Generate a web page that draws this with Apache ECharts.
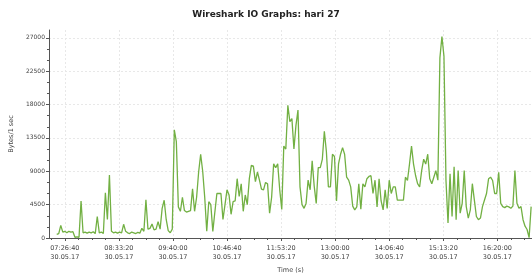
<!DOCTYPE html>
<html>
<head>
<meta charset="utf-8">
<script src="https://cdn.jsdelivr.net/npm/echarts@6/dist/echarts.min.js"></script>
<style>
html,body{margin:0;padding:0;background:#fff;}
#chart{width:532px;height:279px;}
</style>
</head>
<body>
<div id="chart"></div>
<script>
// Chart title and axis names
const chartTitle = 'Wireshark IO Graphs: hari 27';
const yAxisName = 'Bytes/1 sec';
const xAxisName = 'Time (s)';
const dateLabel = '30.05.17';

// X tick labels (seconds since midnight): 07:26:40 ... 16:20:00
const xMajorTicks = [26800, 30800, 34800, 38800, 42800, 46800, 50800, 54800, 58800];
const xMinorTicks = [25800, 27800, 28800, 29800, 31800, 32800, 33800, 35800, 36800, 37800,
  39800, 40800, 41800, 43800, 44800, 45800, 47800, 48800, 49800, 51800, 52800, 53800,
  55800, 56800, 57800, 59800, 60800];
// Y tick labels
const yMajorTicks = [0, 4500, 9000, 13500, 18000, 22500, 27000];
const yMinorTicks = [1500, 3000, 6000, 7500, 10500, 12000, 15000, 16500, 19500, 21000, 24000, 25500];

// Samples: first sample time and spacing (seconds)
const sampleStart = 26200;
const sampleStep = 150;
// Bytes per tick
const bytesValues = [
  500, 600, 1700, 800, 900, 700, 900, 800, 850, 100,
  150, 100, 5000, 700, 800, 650, 800, 700, 850, 600,
  2900, 700, 800, 600, 6100, 2500, 8500, 900, 700, 800,
  650, 800, 700, 1850, 900, 700, 600, 800, 700, 600,
  750, 650, 1300, 900, 5150, 1200, 1300, 1900, 1100, 1200,
  2200, 1200, 4000, 5100, 2500, 1000, 700, 1200, 14600, 13000,
  4200, 3600, 5500, 3700, 3500, 3600, 3700, 6650, 3600, 5500,
  8900, 11300, 9000, 5500, 900, 4900, 4500, 900, 3500, 6000,
  6000, 6000, 2500, 4500, 6500, 5800, 3200, 4900, 5000, 8000,
  5600, 7300, 3600, 5800, 4500, 8000, 9800, 9700, 7600, 8900,
  7800, 6600, 6500, 7500, 7300, 3350, 5500, 10000, 9500, 10000,
  6500, 3850, 12400, 12000, 17900, 15700, 16100, 12000, 15200, 17250,
  6900, 4500, 4000, 4700, 7800, 6500, 10400, 7000, 4670, 9500,
  9500, 10600, 14400, 11700, 6900, 6900, 11300, 11000, 5000, 10000,
  11300, 12200, 11300, 8200, 7800, 6900, 4300, 3800, 4200, 7300,
  3900, 7300, 6900, 8000, 8300, 8400, 6000, 7800, 4200, 8000,
  5000, 3800, 6500, 4000, 7800, 6000, 6900, 6900, 5100, 5100,
  5100, 5100, 8200, 7760, 9970, 12400, 9970, 8430, 7325, 6880,
  9090, 10630, 9970, 11300, 7980, 7325, 8200, 9090, 7800, 24300,
  27180, 24530, 7760, 2030, 8650, 2900, 9600, 2470, 9090, 3350,
  4680, 9090, 4235, 2690, 3800, 7325, 5120, 2900, 2470, 2690,
  4235, 5120, 6000, 7980, 8200, 7760, 6000, 6000, 8870, 4680,
  4235, 4100, 4300, 4200, 4015, 4300, 9090, 4680, 4015, 4235,
  2470, 1590, 1150, 40, 4235
];

const seriesData = bytesValues.map((v, i) => [sampleStart + i * sampleStep, v]);

function pad(n) { return (n < 10 ? '0' : '') + n; }
function fmtTime(s) {
  const h = Math.floor(s / 3600), m = Math.floor((s % 3600) / 60), sec = Math.round(s % 60);
  return pad(h) + ':' + pad(m) + ':' + pad(sec) + '\n' + dateLabel;
}

const FONT = 'DejaVu Sans';
const chart = echarts.init(document.getElementById('chart'), null, {renderer: 'canvas'});
chart.setOption({
  animation: false,
  backgroundColor: '#ffffff',
  title: {
    text: chartTitle, left: 'center', top: 5,
    textStyle: {fontFamily: FONT, fontWeight: 'bold', fontSize: 9, color: '#222'}
  },
  grid: {left: 44, right: 0, top: 30, bottom: 37, containLabel: false},
  xAxis: [{
    type: 'value', min: 25628, max: 61364,
    name: xAxisName, nameLocation: 'middle', nameGap: 29,
    nameTextStyle: {fontFamily: FONT, fontSize: 6.5, color: '#444'},
    axisLine: {show: true, onZero: false, lineStyle: {color: '#555', width: 1}},
    axisTick: {show: true, customValues: xMajorTicks, length: 3, lineStyle: {color: '#555'}},
    axisLabel: {customValues: xMajorTicks, formatter: fmtTime, fontFamily: FONT, fontSize: 6.5,
      color: '#444', margin: 6, lineHeight: 9},
    splitLine: {show: true, lineStyle: {color: '#e8e8e8', type: [2, 2], width: 1}}
  }, {
    type: 'value', min: 25628, max: 61364, position: 'bottom',
    axisLine: {show: false},
    axisTick: {show: true, customValues: xMinorTicks, length: 2, lineStyle: {color: '#555'}},
    axisLabel: {show: false},
    splitLine: {show: false}
  }],
  yAxis: [{
    type: 'value', min: 0, max: 28060,
    name: yAxisName, nameLocation: 'middle', nameGap: 31, nameRotate: 90,
    nameTextStyle: {fontFamily: FONT, fontSize: 6.5, color: '#444'},
    axisLine: {show: true, lineStyle: {color: '#555', width: 1}},
    axisTick: {show: true, customValues: yMajorTicks, length: 3, lineStyle: {color: '#555'}},
    axisLabel: {customValues: yMajorTicks, formatter: (v) => String(v), fontFamily: FONT,
      fontSize: 6, color: '#444', margin: 4},
    splitLine: {show: true, lineStyle: {color: '#e8e8e8', type: [2, 2], width: 1}}
  }, {
    type: 'value', min: 0, max: 28060, position: 'left',
    axisLine: {show: false},
    axisTick: {show: true, customValues: yMinorTicks, length: 2, lineStyle: {color: '#555'}},
    axisLabel: {show: false},
    splitLine: {show: false}
  }],
  series: [{
    type: 'line', xAxisIndex: 0, yAxisIndex: 0,
    data: seriesData, showSymbol: false, sampling: null,
    lineStyle: {color: '#72b043', width: 1.3},
    itemStyle: {color: '#72b043'}
  }]
});
</script>
</body>
</html>
